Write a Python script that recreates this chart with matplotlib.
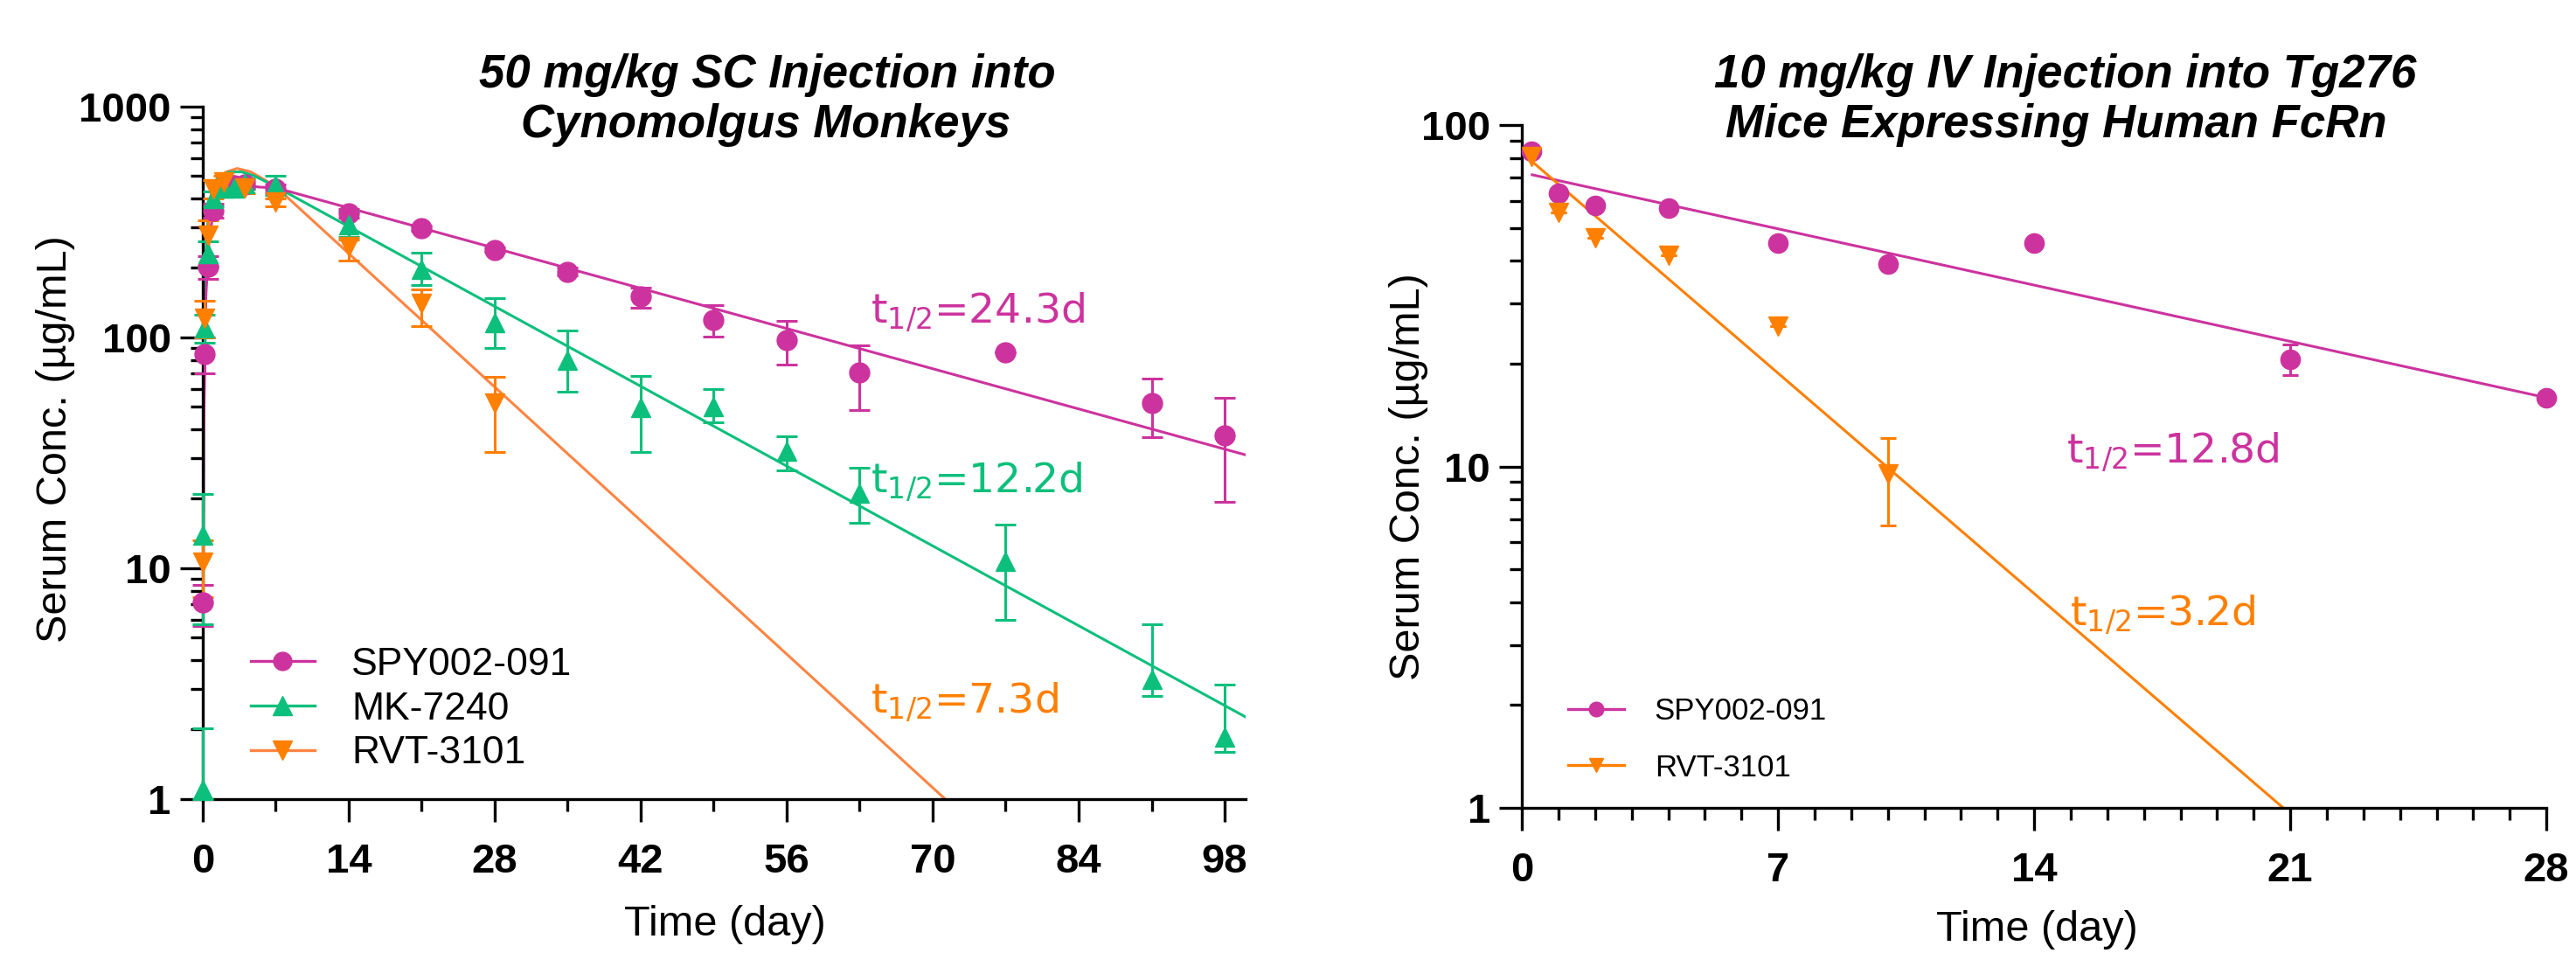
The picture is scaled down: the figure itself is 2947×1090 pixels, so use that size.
import numpy as np
import matplotlib
matplotlib.use('Agg')
import matplotlib.pyplot as plt
from matplotlib.lines import Line2D
from matplotlib.ticker import FixedLocator, LogLocator, NullFormatter

plt.rcParams['font.family'] = ['Liberation Sans', 'DejaVu Sans']

MAGENTA = '#CC339E'
GREEN = '#0DBF7C'
ORANGE = '#FF7F00'
ORANGE_LINE = '#FF8442'

# ---------- 50 mg/kg SC, cynomolgus monkeys ----------
cyno_names = ['SPY002-091', 'MK-7240', 'RVT-3101']

spy_t = [0.04, 0.17, 0.5, 1, 2, 3, 4, 7, 14, 21, 28, 35, 42, 49, 56, 63, 77, 91, 98]
spy_v = [7.1, 85, 203, 355, 450, 456, 460, 440, 345, 297, 239, 192, 151, 119, 97, 70.5, 86.5, 52, 37.5]
spy_lo = [5.6, 70, 180, 330, 430, 440, 440, 420, 330, 290, 235, 185, 135, 101, 76, 48.6, 86.5, 37, 19.4]
spy_hi = [8.5, 100, 225, 380, 470, 475, 480, 460, 360, 305, 245, 200, 164, 138, 118, 92.5, 86.5, 66.6, 55]

mk_t = [0.01, 0.04, 0.17, 0.5, 1, 2, 3, 4, 7, 14, 21, 28, 35, 42, 49, 56, 63, 77, 91, 98]
mk_v = [1.1, 13.9, 110, 231, 400, 444, 444, 464, 457, 307, 198, 116, 80, 49.6, 50.3, 32.2, 21.2, 10.7, 3.3, 1.85]
mk_lo = [1.0, 5.7, 95, 200, 370, 420, 420, 440, 415, 273, 169, 90, 58, 32, 43, 26.5, 15.7, 5.95, 2.8, 1.6]
mk_hi = [2.03, 21, 125, 260, 430, 470, 470, 490, 503, 355, 233, 148, 107, 68, 59.5, 37.3, 27.3, 15.5, 5.7, 3.13]

rvt_t = [0.04, 0.17, 0.5, 1, 2, 4, 7, 14, 21, 28]
rvt_v = [10.6, 121, 278, 440, 474, 443, 385, 247, 140, 52]
rvt_lo = [7.5, 100, 204, 400, 450, 420, 370, 216, 112, 32]
rvt_hi = [13.2, 144, 321, 480, 500, 470, 400, 266, 162, 67.5]

# fitted curves
spy_fit_t = [0, 0.1, 0.3, 0.6, 1, 1.5, 2, 3, 4, 5.5, 7, 100]
spy_fit_v = [2.5, 40, 150, 260, 350, 410, 440, 455, 455, 448, 445, 31]
mk_fit_t = [0.01, 0.1, 0.3, 0.6, 1, 1.5, 2.5, 3.7, 5, 7, 100]
mk_fit_v = [1.1, 60, 230, 380, 450, 500, 520, 522, 500, 450, 2.27]
rvt_fit_t = [0, 0.1, 0.3, 0.6, 1.2, 2.2, 3.3, 4.6, 6, 7, 71.2]
rvt_fit_v = [3.5, 50, 200, 355, 478, 520, 540, 522, 480, 450, 1.0]

cyno_halflife = ['24.3d', '12.2d', '7.3d']

# ---------- 10 mg/kg IV, Tg276 mice ----------
mouse_names = ['SPY002-091', 'RVT-3101']
m_spy_t = [0.25, 1, 2, 4, 7, 10, 14, 21, 28]
m_spy_v = [84, 63, 58, 57.2, 45, 39.2, 45, 20.6, 15.9]
m_spy_lo = [84, 63, 58, 57.2, 45, 39.2, 45, 18.5, 15.9]
m_spy_hi = [84, 63, 58, 57.2, 45, 39.2, 45, 22.8, 15.9]
m_rvt_t = [0.25, 1, 2, 4, 7, 10]
m_rvt_v = [81, 55.5, 46.8, 41.6, 25.7, 9.5]
m_rvt_lo = [81, 55.5, 46.8, 41.6, 25.7, 6.7]
m_rvt_hi = [81, 55.5, 46.8, 41.6, 25.7, 12.1]
m_spy_fit_t = [0.28, 28]
m_spy_fit_v = [71.5, 15.9]
m_rvt_fit_t = [0.17, 21]
m_rvt_fit_v = [80, 0.96]
mouse_halflife = ['12.8d', '3.2d']


def yerr(v, lo, hi):
    v = np.array(v)
    return [v - np.array(lo), np.array(hi) - v]


def style_axes(ax, xmax, xmajor, xminor, ymajor):
    ax.set_yscale('log')
    ax.set_xlim(0, xmax)
    ax.set_ylim(1, ymajor[-1])
    for s in ['top', 'right']:
        ax.spines[s].set_visible(False)
    for s in ['left', 'bottom']:
        ax.spines[s].set_linewidth(2.4)
    ax.set_xticks(xmajor, [str(v) for v in xmajor])
    ax.xaxis.set_minor_locator(FixedLocator(xminor))
    ax.set_yticks(ymajor, [str(v) for v in ymajor])
    ax.yaxis.set_minor_locator(LogLocator(base=10, subs=range(2, 10)))
    ax.yaxis.set_minor_formatter(NullFormatter())
    ax.tick_params(which='major', length=19, width=2.4, labelsize=34)
    ax.tick_params(which='minor', length=10, width=2.4)
    ax.tick_params(axis='x', pad=17)
    ax.tick_params(axis='y', pad=7)
    for lab in ax.get_xticklabels() + ax.get_yticklabels():
        lab.set_fontweight('bold')


fig = plt.figure(figsize=(29.47, 10.9), dpi=100)
ax1 = fig.add_axes([0.0787, 0.1615, 0.4048, 0.7266])
ax2 = fig.add_axes([0.5908, 0.1523, 0.3977, 0.7165])

# ---- left panel
eb = dict(elinewidth=2.2, capsize=8.5, capthick=2.2, linestyle='none', clip_on=False)
ax1.plot(rvt_fit_t, rvt_fit_v, color=ORANGE_LINE, lw=2.2, zorder=2)
ax1.plot(mk_fit_t, mk_fit_v, color=GREEN, lw=2.2, zorder=2)
ax1.plot(spy_fit_t, spy_fit_v, color=MAGENTA, lw=2.2, zorder=2)
ax1.errorbar(spy_t, spy_v, yerr=yerr(spy_v, spy_lo, spy_hi), marker='o', ms=16.5,
             color=MAGENTA, zorder=3, **eb)
ax1.errorbar(mk_t, mk_v, yerr=yerr(mk_v, mk_lo, mk_hi), marker='^', ms=16.5,
             color=GREEN, zorder=3, **eb)
ax1.errorbar(rvt_t, rvt_v, yerr=yerr(rvt_v, rvt_lo, rvt_hi), marker='v', ms=16.5,
             color=ORANGE, zorder=3, **eb)
style_axes(ax1, 100, list(range(0, 99, 14)), list(range(7, 99, 14)), [1, 10, 100, 1000])

h1 = [Line2D([], [], color=MAGENTA, marker='o', ms=15, lw=2.4),
      Line2D([], [], color=GREEN, marker='^', ms=16, lw=2.4),
      Line2D([], [], color=ORANGE_LINE, marker='v', ms=16, mfc=ORANGE, mec=ORANGE, lw=2.4)]
ax1.legend(h1, cyno_names, loc='center left', bbox_to_anchor=(0.046, 0.13), frameon=False,
           fontsize=32, handlelength=1.65, handletextpad=0.95, labelspacing=0.22,
           borderpad=0, borderaxespad=0)

# ---- right panel
ax2.plot(m_spy_fit_t, m_spy_fit_v, color=MAGENTA, lw=2.2, zorder=2)
ax2.plot(m_rvt_fit_t, m_rvt_fit_v, color=ORANGE, lw=2.2, zorder=2)
eb2 = dict(elinewidth=2.2, capsize=6.5, capthick=2.2, linestyle='none', clip_on=False)
ax2.errorbar(m_spy_t, m_spy_v, yerr=yerr(m_spy_v, m_spy_lo, m_spy_hi), marker='o', ms=16,
             color=MAGENTA, zorder=3, **eb2)
ax2.errorbar(m_rvt_t, m_rvt_v, yerr=yerr(m_rvt_v, m_rvt_lo, m_rvt_hi), marker='v', ms=16,
             color=ORANGE, zorder=3, **eb2)
style_axes(ax2, 28, [0, 7, 14, 21, 28], [d for d in range(1, 28) if d % 7], [1, 10, 100])

h2 = [Line2D([], [], color=MAGENTA, marker='o', ms=12, lw=2.4),
      Line2D([], [], color=ORANGE, marker='v', ms=12, lw=2.4)]
ax2.legend(h2, mouse_names, loc='center left', bbox_to_anchor=(0.045, 0.10), frameon=False,
           fontsize=25, handlelength=1.85, handletextpad=1.0, labelspacing=0.9,
           borderpad=0, borderaxespad=0)

# ---- labels
W, H = 2947.0, 1090.0
lab = dict(fontsize=35, ha='center', va='center', rotation=90)
fig.text(64 / W, 1 - 502 / H, 'Serum Conc. (µg/mL)', **lab)
fig.text(1612 / W, 1 - 545 / H, 'Serum Conc. (µg/mL)', **lab)
fig.text(829 / W, 1 - 1070 / H, 'Time (day)', fontsize=35, ha='center', va='baseline')
fig.text(2330 / W, 1 - 1076 / H, 'Time (day)', fontsize=35, ha='center', va='baseline')

tt = dict(fontsize=38, fontweight='bold', fontstyle='italic', ha='center', va='baseline')
fig.text(878 / W, 1 - 100 / H, '50 mg/kg SC Injection into', **tt)
fig.text(876 / W, 1 - 157 / H, 'Cynomolgus Monkeys', **tt)
fig.text(2363 / W, 1 - 100 / H, '10 mg/kg IV Injection into Tg276', **tt)
fig.text(2352 / W, 1 - 157 / H, 'Mice Expressing Human FcRn', **tt)

ann = dict(fontsize=34, family='DejaVu Sans', ha='left', va='baseline')
for txt, col, y in zip(cyno_halflife, [MAGENTA, GREEN, ORANGE], [369, 564, 815]):
    fig.text(996 / W, 1 - y / H, r'$\mathregular{t_{1/2}}$=' + txt, color=col, **ann)
for txt, col, x, y in zip(mouse_halflife, [MAGENTA, ORANGE], [2364, 2368], [530, 716]):
    fig.text(x / W, 1 - y / H, r'$\mathregular{t_{1/2}}$=' + txt, color=col, **ann)

fig.savefig('out.png', dpi=100)
